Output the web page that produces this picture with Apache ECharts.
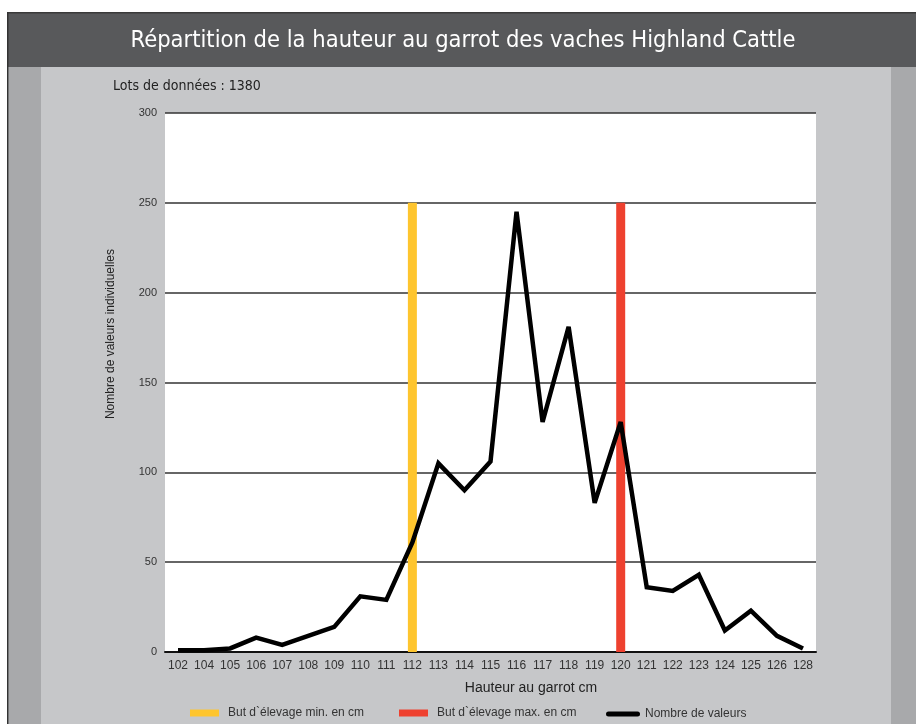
<!DOCTYPE html>
<html>
<head>
<meta charset="utf-8">
<script src="https://cdn.jsdelivr.net/npm/echarts@6/dist/echarts.min.js"></script>
<style>html,body{margin:0;padding:0;background:#fff}#c{width:916px;height:724px}</style>
</head>
<body>
<div id="c"></div>
<script>
var categories = ['102','104','105','106','107','108','109','110','111','112','113','114','115','116','117','118','119','120','121','122','123','124','125','126','128'];
var counts = [1,1,2,8,4,9,14,31,29,61,105,90,106,245,128,181,83,128,36,34,43,12,23,9,2];
var goalMinCategory = '112';
var goalMaxCategory = '120';
var goalHeight = 250;
var yTicks = [0,50,100,150,200,250,300];
var titleText = 'Répartition de la hauteur au garrot des vaches Highland Cattle';
var subtitleText = 'Lots de données : 1380';
var xName = 'Hauteur au garrot cm';
var yName = 'Nombre de valeurs individuelles';
var seriesNames = ['But d`élevage min. en cm', 'But d`élevage max. en cm', 'Nombre de valeurs'];

var FONT = "'DejaVu Sans Condensed','Liberation Sans',sans-serif";
var FONT2 = "'Liberation Sans','DejaVu Sans',sans-serif";

var minData = categories.map(function(c){ return c === goalMinCategory ? goalHeight : null; });
var maxData = categories.map(function(c){ return c === goalMaxCategory ? goalHeight : null; });

var chart = echarts.init(document.getElementById('c'), null, {renderer:'canvas'});
var legendBase = {
  top: 707, padding: 0, itemWidth: 29, itemHeight: 7, itemGap: 10,
  textStyle: {fontFamily: FONT2, fontSize: 12, color: '#333', padding:[0,0,0,4]},
  selectedMode: false
};
chart.setOption({
  animation: false,
  backgroundColor: '#fff',
  graphic: [
    {type:'rect', silent:true, z:-10, shape:{x:7,y:12,width:909,height:712}, style:{fill:'#c6c7c9'}},
    {type:'rect', silent:true, z:-9, shape:{x:7,y:12,width:909,height:55}, style:{fill:'#58595b'}},
    {type:'rect', silent:true, z:-8, shape:{x:7,y:12,width:909,height:1.5}, style:{fill:'#3a3a3a'}},
    {type:'rect', silent:true, z:-8, shape:{x:7,y:12,width:1.5,height:712}, style:{fill:'#333'}},
    {type:'rect', silent:true, z:-9, shape:{x:8.5,y:67,width:32.5,height:657}, style:{fill:'#a8a9ab'}},
    {type:'rect', silent:true, z:-9, shape:{x:891,y:67,width:25,height:657}, style:{fill:'#a8a9ab'}},
    {type:'text', silent:true, x:463, y:41,
      style:{text:titleText, fill:'#fff', font:'23.5px ' + FONT, textAlign:'center', textVerticalAlign:'middle'}},
    {type:'text', silent:true, x:113, y:86,
      style:{text:subtitleText, fill:'#222', font:'14px ' + FONT, textVerticalAlign:'middle'}},
    {type:'text', silent:true, x:111, y:334, rotation:Math.PI/2,
      style:{text:yName, fill:'#222', font:'12px ' + FONT2, textAlign:'center', textVerticalAlign:'middle'}},
    {type:'text', silent:true, x:531, y:688,
      style:{text:xName, fill:'#222', font:'14px ' + FONT2, textAlign:'center', textVerticalAlign:'middle'}}
  ],
  grid: {left:165, right:100, top:113, bottom:72, show:true, backgroundColor:'#fff', borderWidth:0},
  legend: [
    Object.assign({}, legendBase, {left:190, data:[{name:seriesNames[0], icon:'rect'}]}),
    Object.assign({}, legendBase, {left:399, data:[{name:seriesNames[1], icon:'rect'}]}),
    Object.assign({}, legendBase, {left:606, top:708, itemWidth:34, itemHeight:5,
      textStyle:{fontFamily: FONT2, fontSize: 12, color:'#333', padding:[0,0,0,0]},
      data:[{name:seriesNames[2], icon:'path://M2.5,0 L31.5,0 A2.5,2.5 0 0 1 31.5,5 L2.5,5 A2.5,2.5 0 0 1 2.5,0 Z'}]})
  ],
  xAxis: {
    type:'category', data:categories, boundaryGap:true,
    axisLine:{show:true, lineStyle:{color:'#111', width:2}},
    axisTick:{show:false},
    axisLabel:{color:'#333', fontSize:12, fontFamily:FONT2, margin:8, interval:0},
    splitLine:{show:false}
  },
  yAxis: {
    type:'value', min:0, max:300, interval:50,
    axisLine:{show:false}, axisTick:{show:false},
    axisLabel:{color:'#333', fontSize:11, fontFamily:FONT2, margin:8},
    splitLine:{show:true, lineStyle:{color:'#333', width:1.5}}
  },
  series: [
    {name:seriesNames[0], type:'bar', data:minData, barWidth:9, barGap:'-100%', itemStyle:{color:'#fec52e'}, z:2},
    {name:seriesNames[1], type:'bar', data:maxData, barWidth:9, barGap:'-100%', itemStyle:{color:'#ee412f'}, z:2},
    {name:seriesNames[2], type:'line', data:counts, showSymbol:false, symbol:'none', z:5,
      itemStyle:{color:'#000'},
      lineStyle:{color:'#000', width:4.5, join:'miter', miterLimit:2.5}}
  ]
});
</script>
</body>
</html>
